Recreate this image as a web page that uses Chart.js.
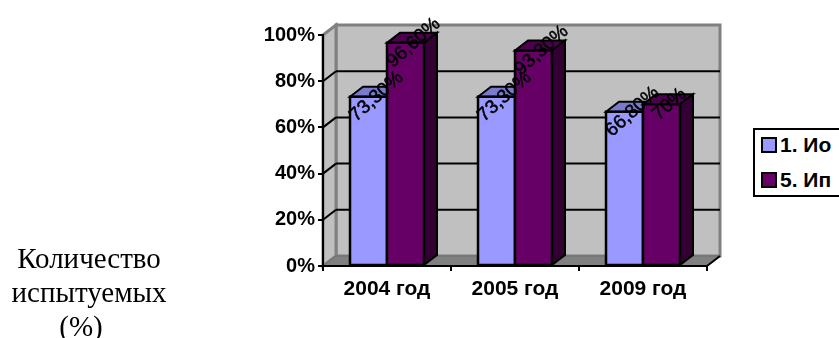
<!DOCTYPE html>
<html>
<head>
<meta charset="utf-8">
<script src="https://cdn.jsdelivr.net/npm/chart.js@4"></script>
<style>
    html, body { margin: 0; padding: 0; background: #fff; overflow: hidden; }
    #wrap { position: relative; width: 839px; height: 338px; }
    #caption {
        position: absolute; left: 0; top: 241px; width: 178px; text-align: center;
        font: 29px/34px "Liberation Serif", serif; color: #000;
    }
    #caption span { position: relative; left: -8px; }
    #legend {
        position: absolute; left: 753px; top: 128px; width: 90px; height: 65px;
        border: 2px solid #000; background: #fff; font: bold 21px "Liberation Sans", sans-serif;
    }
    .legend-row { position: absolute; left: 6px; height: 18px; line-height: 18px; white-space: nowrap; }
    .legend-box { display: inline-block; width: 12px; height: 12px; border: 2px solid #000; margin-right: 3px; vertical-align: -1px; }
</style>
</head>
<body>
<div id="wrap">
    <canvas id="chart" width="839" height="338"></canvas>
    <div id="caption">Количество<br>испытуемых<br><span>(%)</span></div>
    <div id="legend"></div>
</div>
<script>
const categories = ['2004 год', '2005 год', '2009 год'];
const seriesNames = ['1. Ио', '5. Ип'];
const ioValues = [73.3, 73.3, 66.8];
const ipValues = [96.6, 93.3, 70];
const ioLabels = ['73,30%', '73,30%', '66,80%'];
const ipLabels = ['96,60%', '93,30%', '70%'];
const yTicks = [0, 20, 40, 60, 80, 100];

const depthX = 13;
const depthY = 10;
const faces = [
    { front: '#9999ff', top: '#7a7acc', side: '#4d4d80' },
    { front: '#660066', top: '#4d004d', side: '#330033' }
];

function poly(ctx, pts, fill, stroke, width) {
    ctx.beginPath();
    pts.forEach((p, i) => i ? ctx.lineTo(p[0], p[1]) : ctx.moveTo(p[0], p[1]));
    ctx.closePath();
    if (fill) { ctx.fillStyle = fill; ctx.fill(); }
    if (stroke) { ctx.strokeStyle = stroke; ctx.lineWidth = width; ctx.stroke(); }
}

function line(ctx, x1, y1, x2, y2, color, width) {
    ctx.beginPath();
    ctx.moveTo(x1, y1);
    ctx.lineTo(x2, y2);
    ctx.strokeStyle = color;
    ctx.lineWidth = width;
    ctx.stroke();
}

// Back wall, side wall, floor and gridlines of the fake 3D box
const wallsPlugin = {
    id: 'walls',
    beforeDraw(chart) {
        const { ctx, chartArea: a, scales } = chart;
        ctx.save();
        poly(ctx, [[a.left + depthX, a.top - depthY], [a.right + depthX, a.top - depthY], [a.right + depthX, a.bottom - depthY], [a.left + depthX, a.bottom - depthY]], '#c0c0c0', '#808080', 3);
        poly(ctx, [[a.left, a.top], [a.left + depthX, a.top - depthY], [a.left + depthX, a.bottom - depthY], [a.left, a.bottom]], '#c0c0c0', '#808080', 3);
        poly(ctx, [[a.left, a.bottom], [a.left + depthX, a.bottom - depthY], [a.right + depthX, a.bottom - depthY], [a.right, a.bottom]], '#808080', '#6e6e6e', 1);
        yTicks.forEach(v => {
            if (v === 0 || v === 100) return;
            const y = scales.y.getPixelForValue(v);
            line(ctx, a.left, y, a.left + depthX, y - depthY, '#000', 2);
            line(ctx, a.left + depthX, y - depthY, a.right + depthX, y - depthY, '#000', 2);
        });
        line(ctx, a.right, a.bottom, a.right + depthX, a.bottom - depthY, '#000', 2);
        ctx.restore();
    }
};

// Redraw the bars series by series so the second one covers the first, with side and top faces
const barsPlugin = {
    id: 'bars3d',
    afterDatasetsDraw(chart) {
        const ctx = chart.ctx;
        ctx.save();
        [0, 1].forEach(i => {
            chart.getDatasetMeta(i).data.forEach(bar => {
                const l = bar.x - bar.width / 2;
                const r = bar.x + bar.width / 2;
                const t = bar.y;
                const b = bar.base;
                poly(ctx, [[l, t], [l + depthX, t - depthY], [r + depthX, t - depthY], [r, t]], faces[i].top, '#000', 2);
                poly(ctx, [[r, t], [r + depthX, t - depthY], [r + depthX, b - depthY], [r, b]], faces[i].side, '#000', 2);
                bar.draw(ctx);
                poly(ctx, [[l, t], [r, t], [r, b], [l, b]], null, '#000', 2.5);
            });
        });
        ctx.restore();
    }
};

// Slanted value labels
const labelsPlugin = {
    id: 'slantLabels',
    afterDraw(chart) {
        const ctx = chart.ctx;
        [ioLabels, ipLabels].forEach((labels, i) => {
            chart.getDatasetMeta(i).data.forEach((bar, k) => {
                ctx.save();
                ctx.translate(bar.x + 8, bar.y);
                ctx.rotate(-42 * Math.PI / 180);
                ctx.font = '19px "Liberation Sans", sans-serif';
                ctx.fillStyle = '#000';
                ctx.strokeStyle = '#000';
                ctx.lineWidth = 0.5;
                ctx.textAlign = 'center';
                ctx.textBaseline = 'middle';
                ctx.fillText(labels[k], 0, 0);
                ctx.strokeText(labels[k], 0, 0);
                ctx.restore();
            });
        });
    }
};

new Chart(document.getElementById('chart').getContext('2d'), {
    type: 'bar',
    data: {
        labels: categories,
        datasets: [
            { label: seriesNames[0], data: ioValues, backgroundColor: faces[0].front, borderWidth: 0 },
            { label: seriesNames[1], data: ipValues, backgroundColor: faces[1].front, borderWidth: 0 }
        ]
    },
    options: {
        responsive: false,
        animation: false,
        events: [],
        layout: { padding: { left: 0, right: 132, top: 35, bottom: 0 } },
        plugins: { legend: { display: false }, tooltip: { enabled: false } },
        datasets: { bar: { categoryPercentage: 0.578, barPercentage: 1 } },
        scales: {
            x: {
                afterFit(scale) { scale.height = 72; },
                grid: { offset: true, drawOnChartArea: false, color: '#000', lineWidth: 2, tickLength: 5 },
                border: { color: '#000', width: 2 },
                ticks: { color: '#000', padding: 6, maxRotation: 0, font: { family: 'Liberation Sans', size: 21, weight: 'bold' } }
            },
            y: {
                min: 0,
                max: 100,
                afterFit(scale) { scale.width = 323; },
                afterBuildTicks(scale) { scale.ticks = yTicks.map(v => ({ value: v })); },
                grid: { drawOnChartArea: false, color: '#000', lineWidth: 2, tickLength: 5 },
                border: { color: '#000', width: 2 },
                ticks: { color: '#000', padding: 3, callback: v => v + '%', font: { family: 'Liberation Sans', size: 20, weight: 'bold' } }
            }
        }
    },
    plugins: [wallsPlugin, barsPlugin, labelsPlugin]
});

const legend = document.getElementById('legend');
seriesNames.forEach((name, i) => {
    const row = document.createElement('div');
    row.className = 'legend-row';
    row.style.top = (6 + i * 35) + 'px';
    row.innerHTML = `<span class="legend-box" style="background:${faces[i].front}"></span>${name}`;
    legend.appendChild(row);
});
</script>
</body>
</html>
